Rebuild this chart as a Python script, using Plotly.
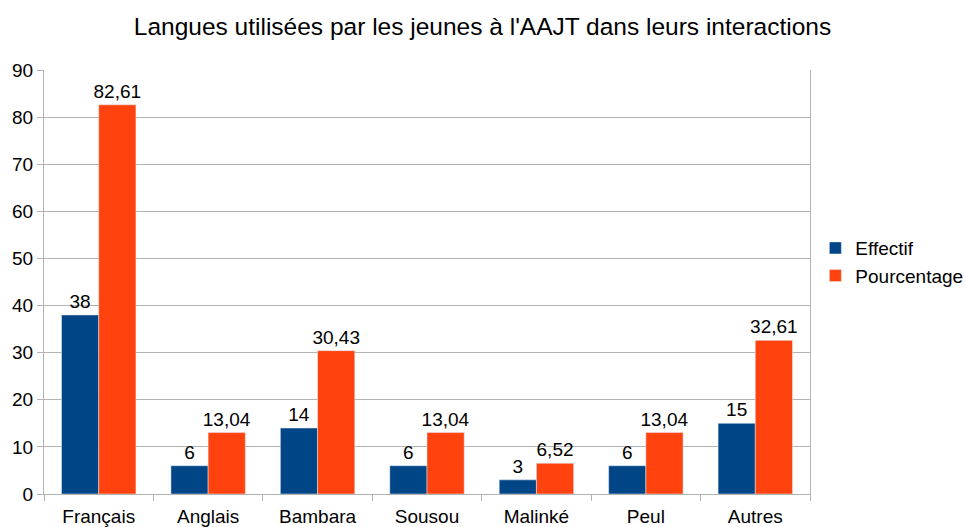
import plotly.graph_objects as go

# Data
categories = ['Français', 'Anglais', 'Bambara', 'Sousou', 'Malinké', 'Peul', 'Autres']
effectif = [38, 6, 14, 6, 3, 6, 15]
pourcentage = [82.61, 13.04, 30.43, 13.04, 6.52, 13.04, 32.61]

def fr(v):
    # French decimal comma
    return ('%g' % v) if float(v).is_integer() else ('%.2f' % v).replace('.', ',')

font = 'Liberation Sans, Arial, sans-serif'

fig = go.Figure()

fig.add_trace(go.Bar(
    x=categories, y=effectif, name='Effectif',
    marker_color='#004586',
    text=[fr(v) for v in effectif], textposition='outside', textangle=0,
    constraintext='none', textfont=dict(size=19, color='black'), cliponaxis=False
))

fig.add_trace(go.Bar(
    x=categories, y=pourcentage, name='Pourcentage',
    marker_color='#ff420e',
    text=[fr(v) for v in pourcentage], textposition='outside', textangle=0,
    constraintext='none', textfont=dict(size=19, color='black'), cliponaxis=False
))

fig.update_layout(
    width=965, height=527,
    title=dict(text="Langues utilisées par les jeunes à l'AAJT dans leurs interactions",
               x=0.5, xanchor='center', yref='container', y=0.95, yanchor='middle',
               font=dict(size=24.5, color='black'), automargin=False),
    font=dict(family=font, size=19, color='black'),
    barmode='group', bargap=0.32, bargroupgap=0,
    plot_bgcolor='white', paper_bgcolor='white',
    margin=dict(l=44, r=155, t=70, b=33, autoexpand=False),
    legend=dict(x=1.007, xanchor='left', y=0.547, yanchor='middle',
                font=dict(size=19), itemwidth=30),
    uniformtext=dict(mode=False),
)

fig.update_yaxes(range=[0, 90], dtick=10, showgrid=True, gridcolor='#b3b3b3',
                 showline=True, linecolor='#b3b3b3', mirror=True,
                 ticks='outside', ticklen=6, tickcolor='#b3b3b3',
                 zeroline=False, automargin=False)
fig.update_xaxes(showgrid=False, showline=True, linecolor='#b3b3b3',
                 ticks='outside', tickson='boundaries', ticklen=6, tickcolor='#b3b3b3',
                 ticklabelstandoff=5, automargin=False)

# remove the page's default body margin so the figure sits at the top-left corner
fig.write_html("out.html", config={'displayModeBar': False},
               post_script="document.body.style.margin='0';")
